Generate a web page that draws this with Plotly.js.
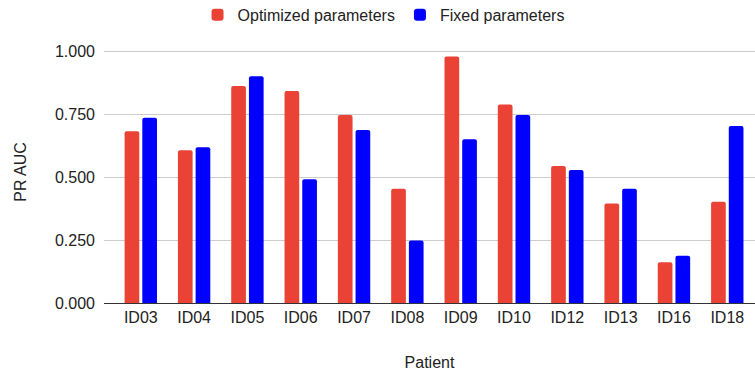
<!DOCTYPE html>
<html>
<head>
<meta charset="utf-8">
<script src="https://cdn.plot.ly/plotly-3.0.1.min.js"></script>
<style>
  html, body { margin: 0; padding: 0; background: #fff; }
  #chart { width: 755px; height: 374px; }
</style>
</head>
<body>
<div id="chart"></div>
<script>
// Patients on the x axis
const patients = ["ID03", "ID04", "ID05", "ID06", "ID07", "ID08", "ID09", "ID10", "ID12", "ID13", "ID16", "ID18"];

// PR AUC per patient, per parameter strategy
const optimizedAUC = [0.683, 0.607, 0.863, 0.843, 0.747, 0.454, 0.980, 0.789, 0.545, 0.395, 0.162, 0.402];
const fixedAUC     = [0.736, 0.619, 0.901, 0.492, 0.688, 0.248, 0.651, 0.747, 0.529, 0.454, 0.188, 0.704];

// Y axis ticks
const yTicks = [0, 0.25, 0.5, 0.75, 1.0];
const yTickLabels = ["0.000", "0.250", "0.500", "0.750", "1.000"];

const FONT = "Arial, 'Liberation Sans', sans-serif";

const traces = [
  {
    type: "bar",
    name: "Optimized parameters",
    x: patients,
    y: optimizedAUC,
    marker: { color: "#ea4335" },
    hoverinfo: "x+y+name"
  },
  {
    type: "bar",
    name: "Fixed parameters",
    x: patients,
    y: fixedAUC,
    marker: { color: "#0000ff" },
    hoverinfo: "x+y+name"
  }
];

const layout = {
  width: 755,
  height: 374,
  margin: { l: 104, r: 0, t: 41, b: 71, pad: 0 },
  paper_bgcolor: "#ffffff",
  plot_bgcolor: "#ffffff",
  font: { family: FONT, size: 16, color: "#222222" },
  barmode: "group",
  bargap: 0.336,
  bargroupgap: 0.17,
  barcornerradius: 2,
  showlegend: true,
  legend: {
    orientation: "h",
    xref: "container",
    yref: "container",
    x: 0.508,
    xanchor: "center",
    y: 0.96,
    yanchor: "middle",
    font: { family: FONT, size: 16, color: "#222222" },
    itemclick: false,
    traceorder: "normal"
  },
  xaxis: {
    type: "category",
    range: [-0.69, 11.52],
    showgrid: false,
    showline: true,
    linecolor: "#333333",
    linewidth: 1,
    ticks: "",
    tickfont: { family: FONT, size: 16, color: "#222222" },
    automargin: false,
    title: { text: "Patient", font: { family: FONT, size: 16, color: "#222222" }, standoff: 31 },
    fixedrange: true
  },
  yaxis: {
    range: [0, 1.0414],
    tickvals: yTicks,
    ticktext: yTickLabels,
    showgrid: true,
    gridcolor: "#cccccc",
    gridwidth: 1,
    zeroline: false,
    showline: false,
    ticks: "",
    ticklabelstandoff: 8,
    tickfont: { family: FONT, size: 16, color: "#222222" },
    automargin: false,
    title: { text: "PR AUC", font: { family: FONT, size: 16, color: "#222222" }, standoff: 24 },
    fixedrange: true
  }
};

Plotly.newPlot("chart", traces, layout, { displayModeBar: false, staticPlot: false, responsive: false });
</script>
</body>
</html>
